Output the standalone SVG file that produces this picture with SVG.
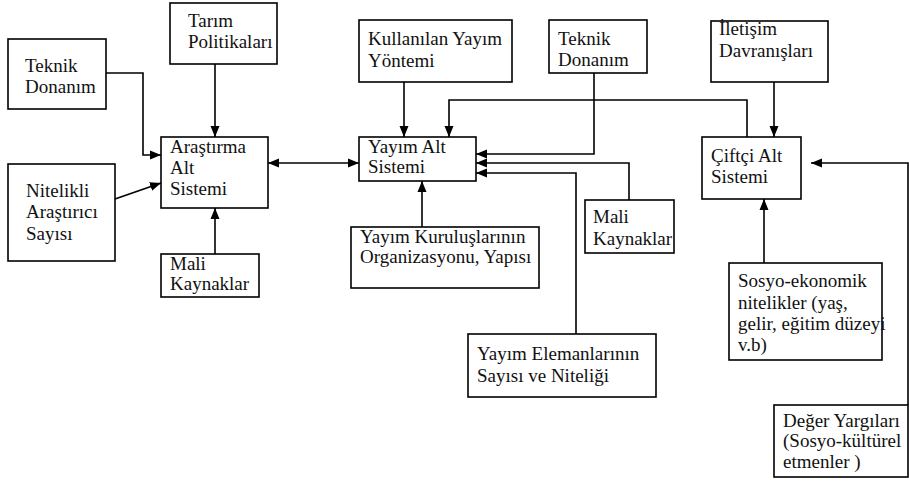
<svg xmlns="http://www.w3.org/2000/svg" width="909" height="483" viewBox="0 0 909 483">
<style>
rect{fill:#fff;stroke:#000;stroke-width:1.6}
text{font-family:"Liberation Serif","Times New Roman",serif;font-size:19px;fill:#111}
.c path{fill:none;stroke:#000;stroke-width:1.6}
</style>
<defs>
<marker id="ah" markerUnits="userSpaceOnUse" markerWidth="12" markerHeight="10" refX="11" refY="5" orient="auto-start-reverse" viewBox="0 0 12 10">
<path d="M0,0.5 L11,5 L0,9.5 z" fill="#000"/>
</marker>
</defs>
<rect width="909" height="483" style="fill:#fff;stroke:none"/>
<g id="teknik1"><rect x="8" y="39" width="98" height="70"/><text x="25" y="72">Teknik</text><text x="25" y="93">Donanım</text></g>
<g id="tarim"><rect x="170" y="3" width="107" height="61"/><text x="188" y="27">Tarım</text><text x="188" y="48">Politikaları</text></g>
<g id="nitelikli"><rect x="8" y="164" width="107" height="97"/><text x="26" y="197">Nitelikli</text><text x="26" y="218">Araştırıcı</text><text x="26" y="240">Sayısı</text></g>
<g id="arastirma"><rect x="161" y="137" width="107" height="71"/><text x="170" y="153">Araştırma</text><text x="170" y="174">Alt</text><text x="170" y="195">Sistemi</text></g>
<g id="mali1"><rect x="161" y="254" width="98" height="43"/><text x="170" y="270">Mali</text><text x="170" y="290">Kaynaklar</text></g>
<g id="kullanilan"><rect x="359" y="20" width="153" height="62"/><text x="368" y="45">Kullanılan Yayım</text><text x="368" y="67">Yöntemi</text></g>
<g id="teknik2"><rect x="549" y="20" width="98" height="53"/><text x="558" y="45">Teknik</text><text x="558" y="66">Donanım</text></g>
<g id="iletisim"><rect x="711" y="21" width="117" height="61"/><text x="719" y="35">İletişim</text><text x="719" y="57">Davranışları</text></g>
<g id="yayim"><rect x="359" y="137" width="117" height="44"/><text x="368" y="153">Yayım Alt</text><text x="368" y="173">Sistemi</text></g>
<g id="ciftci"><rect x="702" y="137" width="99" height="62"/><text x="711" y="162">Çiftçi Alt</text><text x="711" y="183">Sistemi</text></g>
<g id="kurulus"><rect x="351" y="227" width="188" height="61"/><text x="360" y="243">Yayım Kuruluşlarının</text><text x="360" y="263">Organizasyonu, Yapısı</text></g>
<g id="mali2"><rect x="585" y="200" width="89" height="53"/><text x="593" y="223">Mali</text><text x="593" y="245">Kaynaklar</text></g>
<g id="eleman"><rect x="468" y="334" width="188" height="63"/><text x="477" y="360">Yayım Elemanlarının</text><text x="477" y="382">Sayısı ve Niteliği</text></g>
<g id="sosyo"><rect x="729" y="263" width="153" height="97"/><text x="738" y="287">Sosyo-ekonomik</text><text x="738" y="309">nitelikler (yaş,</text><text x="738" y="330">gelir, eğitim düzeyi</text><text x="738" y="351">v.b)</text></g>
<g id="deger"><rect x="774" y="405" width="134" height="72"/><text x="783" y="427">Değer Yargıları</text><text x="783" y="447">(Sosyo-kültürel</text><text x="783" y="468">etmenler )</text></g>
<g class="c" id="connectors">
<path d="M106,73 H143 V155 H161" marker-end="url(#ah)"/>
<path d="M215,64 V137" marker-end="url(#ah)"/>
<path d="M115,199 L161,183" marker-end="url(#ah)"/>
<path d="M215,254 V208" marker-end="url(#ah)"/>
<path d="M268,163 H359" marker-start="url(#ah)" marker-end="url(#ah)"/>
<path d="M404,82 V137" marker-end="url(#ah)"/>
<path d="M747,137 V100 H449 V137" marker-end="url(#ah)"/>
<path d="M594,73 V154 H476" marker-end="url(#ah)"/>
<path d="M629,200 V163 H476" marker-end="url(#ah)"/>
<path d="M576,334 V173 H476" marker-end="url(#ah)"/>
<path d="M422,227 V181" marker-end="url(#ah)"/>
<path d="M774,82 V137" marker-end="url(#ah)"/>
<path d="M764,263 V199" marker-end="url(#ah)"/>
<path d="M908,405 V163 H811" marker-end="url(#ah)"/>
</g>
</svg>
